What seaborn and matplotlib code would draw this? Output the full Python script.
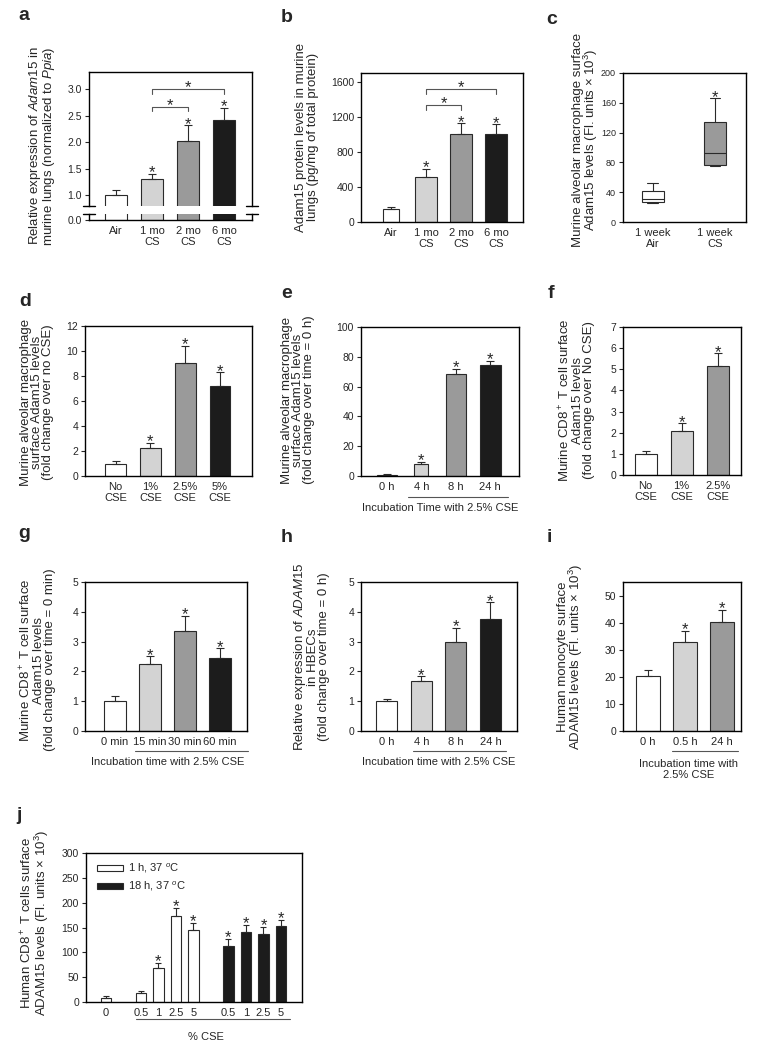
import numpy as np
import pandas as pd
import matplotlib
matplotlib.use("Agg")
import matplotlib.pyplot as plt
from matplotlib.patches import Patch
from matplotlib.ticker import FormatStrFormatter
import seaborn as sns

sns.set_style("ticks")
plt.rcParams["font.family"] = ["Liberation Sans", "DejaVu Sans"]
plt.rcParams["mathtext.fontset"] = "custom"
plt.rcParams["mathtext.rm"] = "Liberation Sans"
plt.rcParams["mathtext.it"] = "Liberation Sans:italic"

# ---- data ----
a_labels = ["Air", "1 mo\nCS", "2 mo\nCS", "6 mo\nCS"]
a_mean = [1.0, 1.3, 2.02, 2.42]
a_err = [0.1, 0.11, 0.3, 0.23]
a_sig = [False, True, True, True]

b_labels = ["Air", "1 mo\nCS", "2 mo\nCS", "6 mo\nCS"]
b_mean = [145, 512, 1005, 1005]
b_err = [25, 92, 120, 110]
b_sig = [False, True, True, True]

c_labels = ["1 week\nAir", "1 week\nCS"]
c_air = [25.5, 27, 31, 41, 52]
c_cs = [75.5, 76.5, 92, 134, 166]

d_labels = ["No\nCSE", "1%\nCSE", "2.5%\nCSE", "5%\nCSE"]
d_mean = [1.0, 2.27, 9.07, 7.2]
d_err = [0.2, 0.4, 1.35, 1.1]
d_sig = [False, True, True, True]

e_labels = ["0 h", "4 h", "8 h", "24 h"]
e_mean = [1.0, 8.3, 68.3, 74.6]
e_err = [0.6, 1.0, 3.8, 2.6]
e_sig = [False, True, True, True]

f_labels = ["No\nCSE", "1%\nCSE", "2.5%\nCSE"]
f_mean = [1.0, 2.1, 5.16]
f_err = [0.15, 0.35, 0.6]
f_sig = [False, True, True]

g_labels = ["0 min", "15 min", "30 min", "60 min"]
g_mean = [1.0, 2.24, 3.37, 2.44]
g_err = [0.19, 0.27, 0.5, 0.33]
g_sig = [False, True, True, True]

h_labels = ["0 h", "4 h", "8 h", "24 h"]
h_mean = [1.0, 1.67, 2.98, 3.77]
h_err = [0.09, 0.16, 0.49, 0.55]
h_sig = [False, True, True, True]

i_labels = ["0 h", "0.5 h", "24 h"]
i_mean = [20.4, 33.0, 40.3]
i_err = [2.2, 4.0, 4.4]
i_sig = [False, True, True]

j_pct = ["0", "0.5", "1", "2.5", "5", "0.5", "1", "2.5", "5"]
j_group = ["1 h", "1 h", "1 h", "1 h", "1 h", "18 h", "18 h", "18 h", "18 h"]
j_mean = [8.7, 18.8, 69, 172.5, 144, 112.7, 141, 136, 153]
j_err = [3.3, 3.2, 10, 16.5, 16, 14.8, 14.7, 15, 13]
j_sig = [False, False, True, True, True, True, True, True, True]

GREYS = ["white", "#d3d3d3", "#9a9a9a", "#1c1c1c"]
EDGE = "#2a2a2a"
W, H = 763, 1050

fig = plt.figure(figsize=(W / 100, H / 100), dpi=100)


def px_axes(l, t, r, b):
    return fig.add_axes([l / W, 1 - b / H, (r - l) / W, (b - t) / H])


def style(ax, xlim, ylim, yticks, box=True):
    ax.set_xlim(*xlim)
    ax.set_ylim(*ylim)
    ax.set_yticks(yticks)
    for s in ax.spines.values():
        s.set_visible(box)
        s.set_linewidth(1.0)
        s.set_color("black")
    ax.tick_params(axis="y", direction="out", length=3, width=0.8, labelsize=7.5, pad=2)
    ax.tick_params(axis="x", length=0, labelsize=8, pad=4)
    ax.set_xlabel("")
    ax.set_ylabel("")


def star(ax, x, y):
    ax.annotate("*", (x, y), xytext=(0, -2.5), textcoords="offset points",
                ha="center", va="baseline", fontsize=12)


def bars(ax, labels, mean, err, sig, width, colors, errbars=True, widths=None):
    sns.barplot(x=labels, y=mean, hue=labels, order=labels, hue_order=labels,
                palette=colors, legend=False, width=width, edgecolor=EDGE,
                linewidth=0.8, errorbar=None, dodge=False, ax=ax)
    if widths:
        for p, w in zip(ax.patches, widths):
            if w:
                cx = p.get_x() + p.get_width() / 2
                p.set_width(w)
                p.set_x(cx - w / 2)
    if errbars:
        x = np.arange(len(mean))
        ax.errorbar(x, mean, yerr=[np.zeros(len(err)), err], fmt="none", ecolor=EDGE,
                    elinewidth=0.8, capsize=3, capthick=0.8, zorder=1)
        for xi, m, e, s in zip(x, mean, err, sig):
            if s:
                star(ax, xi, m + e)


def bracket(ax, x1, x2, y, drop):
    ax.plot([x1, x1, x2, x2], [y - drop, y, y, y - drop], color="#555555", lw=0.8)
    star(ax, (x1 + x2) / 2, y)


def ylab(text, x, y):
    fig.text(x / W, 1 - y / H, text, rotation=90, ha="center", va="center",
             fontsize=9.5, linespacing=0.9, multialignment="center")


def letter(t, x, y):
    fig.text(x / W, 1 - y / H, t, fontsize=14, fontweight="bold", ha="left", va="center")


def underline(ax, x0, x1, yl, text, xt, yt):
    ax.plot([x0, x1], [yl, yl], transform=ax.get_xaxis_transform(), clip_on=False,
            color="#555555", lw=0.8)
    ax.text(xt, yt, text, transform=ax.get_xaxis_transform(), ha="center", va="center",
            fontsize=8, linespacing=1.1)


# ---- a : broken axis ----
ax_up = px_axes(89, 72, 252, 206)
ax_lo = px_axes(89, 214, 252, 220)
bars(ax_up, a_labels, a_mean, a_err, a_sig, 0.62, GREYS)
bars(ax_lo, a_labels, a_mean, a_err, a_sig, 0.62, GREYS, errbars=False)
style(ax_up, (-0.76, 3.78), (0.8, 3.32), [1.0, 1.5, 2.0, 2.5, 3.0])
style(ax_lo, (-0.76, 3.78), (0, 0.12), [0.0])
ax_up.spines["bottom"].set_visible(False)
ax_lo.spines["top"].set_visible(False)
ax_up.set_xticks([])
ax_up.yaxis.set_major_formatter(FormatStrFormatter("%.1f"))
ax_lo.yaxis.set_major_formatter(FormatStrFormatter("%.1f"))
for axx, yy in [(ax_up, 0), (ax_lo, 1)]:
    for xx in (0, 1):
        axx.plot([xx - 0.035, xx + 0.035], [yy, yy], transform=axx.transAxes,
                 clip_on=False, color="black", lw=1.0)
bracket(ax_up, 1, 2, 2.67, 0.09)
bracket(ax_up, 1, 3, 3.0, 0.09)
ylab("Relative expression of $\\it{Adam15}$ in\nmurine lungs (normalized to $\\it{Ppia}$)", 42, 146)

# ---- b ----
ax = px_axes(361, 73, 523, 222)
bars(ax, b_labels, b_mean, b_err, b_sig, 0.63, GREYS, widths=[0.46, 0, 0, 0])
style(ax, (-0.86, 3.77), (0, 1700), [0, 400, 800, 1200, 1600])
bracket(ax, 1, 2, 1337, 57)
bracket(ax, 1, 3, 1520, 57)
ylab("Adam15 protein levels in murine\nlungs (pg/mg of total protein)", 307, 137)

# ---- c : box plot ----
ax = px_axes(623, 73, 746, 222)
c_df = pd.DataFrame({"grp": [c_labels[0]] * len(c_air) + [c_labels[1]] * len(c_cs),
                     "val": c_air + c_cs})
sns.boxplot(data=c_df, x="grp", y="val", hue="grp", palette=["white", "#9a9a9a"],
            whis=(0, 100), width=0.35, linewidth=0.8, linecolor=EDGE, legend=False, ax=ax)
style(ax, (-0.48, 1.5), (0, 200), [0, 40, 80, 120, 160, 200])
ax.tick_params(axis="y", labelsize=6.5)
star(ax, 1, max(c_cs))
ylab("Murine alveolar macrophage surface\nAdam15 levels (Fl. units $\\times$ 10$^3$)", 586, 140)

# ---- d ----
ax = px_axes(85, 326, 252, 476)
bars(ax, d_labels, d_mean, d_err, d_sig, 0.6, GREYS)
style(ax, (-0.88, 3.92), (0, 12), [0, 2, 4, 6, 8, 10, 12])
ylab("Murine alveolar macrophage\nsurface Adam15 levels\n(fold change over no CSE)", 37, 402)

# ---- e ----
ax = px_axes(361, 327, 519, 476)
bars(ax, e_labels, e_mean, e_err, e_sig, 0.6, GREYS, widths=[0, 0.4, 0, 0])
style(ax, (-0.75, 3.83), (0, 100), [0, 20, 40, 60, 80, 100])
underline(ax, 0.6, 3.5, -0.14, "Incubation Time with 2.5% CSE", 1.55, -0.215)
ylab("Murine alveolar macrophage\nsurface Adam15 levels\n(fold change over time = 0 h)", 298, 400)

# ---- f ----
ax = px_axes(623, 327, 741, 475)
bars(ax, f_labels, f_mean, f_err, f_sig, 0.61, GREYS[:3])
style(ax, (-0.625, 2.65), (0, 7), list(range(8)))
ylab("Murine CD8$^+$ T cell surface\nAdam15 levels\n(fold change over No CSE)", 576, 400)

# ---- g ----
ax = px_axes(85, 582, 247, 731)
bars(ax, g_labels, g_mean, g_err, g_sig, 0.63, GREYS)
style(ax, (-0.857, 3.77), (0, 5), list(range(6)))
underline(ax, 0.57, 3.8, -0.134, "Incubation time with 2.5% CSE", 1.5, -0.208)
ylab("Murine CD8$^+$ T cell surface\nAdam15 levels\n(fold change over time = 0 min)", 37, 660)

# ---- h ----
ax = px_axes(361, 582, 517, 731)
bars(ax, h_labels, h_mean, h_err, h_sig, 0.61, GREYS)
style(ax, (-0.75, 3.77), (0, 5), list(range(6)))
underline(ax, 0.75, 3.45, -0.134, "Incubation time with 2.5% CSE", 1.5, -0.208)
ylab("Relative expression of $\\it{ADAM15}$\nin HBECs\n(fold change over time = 0 h)", 311, 657)

# ---- i ----
ax = px_axes(623, 582, 741, 731)
bars(ax, i_labels, i_mean, i_err, i_sig, 0.65, GREYS[:3])
style(ax, (-0.68, 2.52), (0, 55), [0, 10, 20, 30, 40, 50])
underline(ax, 0.65, 2.45, -0.134, "Incubation time with\n2.5% CSE", 1.1, -0.26)
ylab("Human monocyte surface\nADAM15 levels (Fl. units $\\times$ 10$^3$)", 571, 657)

# ---- j : grouped, with gaps between groups ----
ax = px_axes(86, 853, 302, 1002)
j_key = [f"{g}|{p}|{k}" for k, (g, p) in enumerate(zip(j_group, j_pct))]
order = [j_key[0], "gap1"] + j_key[1:5] + ["gap2"] + j_key[5:]
sns.barplot(x=j_key, y=j_mean, hue=j_group, order=order,
            palette={"1 h": "white", "18 h": "#1c1c1c"}, width=0.6, edgecolor=EDGE,
            linewidth=0.8, errorbar=None, dodge=False, legend=False, ax=ax)
jx = np.array([order.index(k) for k in j_key])
ax.errorbar(jx, j_mean, yerr=[np.zeros(len(j_err)), j_err], fmt="none", ecolor=EDGE,
            elinewidth=0.8, capsize=2.5, capthick=0.8, zorder=1)
for xi, m, e, s in zip(jx, j_mean, j_err, j_sig):
    if s:
        star(ax, xi, m + e)
style(ax, (-1.14, 11.2), (0, 300), [0, 50, 100, 150, 200, 250, 300])
ax.set_xticks(jx)
ax.set_xticklabels(j_pct)
underline(ax, 1.7, 10.5, -0.114, "% CSE", 5.7, -0.235)
handles = [Patch(facecolor="white", edgecolor=EDGE, lw=0.8, label="1 h, 37 $^{o}$C"),
           Patch(facecolor="#1c1c1c", edgecolor=EDGE, lw=0.8, label="18 h, 37 $^{o}$C")]
ax.legend(handles=handles, loc="upper left", bbox_to_anchor=(0.01, 1.0), frameon=False,
          fontsize=8, handlelength=2.3, handleheight=0.45, handletextpad=0.5,
          labelspacing=0.4, borderpad=0.3)
ylab("Human CD8$^+$ T cells surface\nADAM15 levels (Fl. units $\\times$ 10$^3$)", 35, 923)

# ---- panel letters ----
for t, x, y in [("a", 18, 15), ("b", 281, 17), ("c", 546, 20), ("d", 19, 302),
                ("e", 281, 294), ("f", 548, 294), ("g", 18, 534), ("h", 281, 537),
                ("i", 547, 537), ("j", 16, 815)]:
    letter(t, x, y)

fig.savefig("out.png", dpi=100)
